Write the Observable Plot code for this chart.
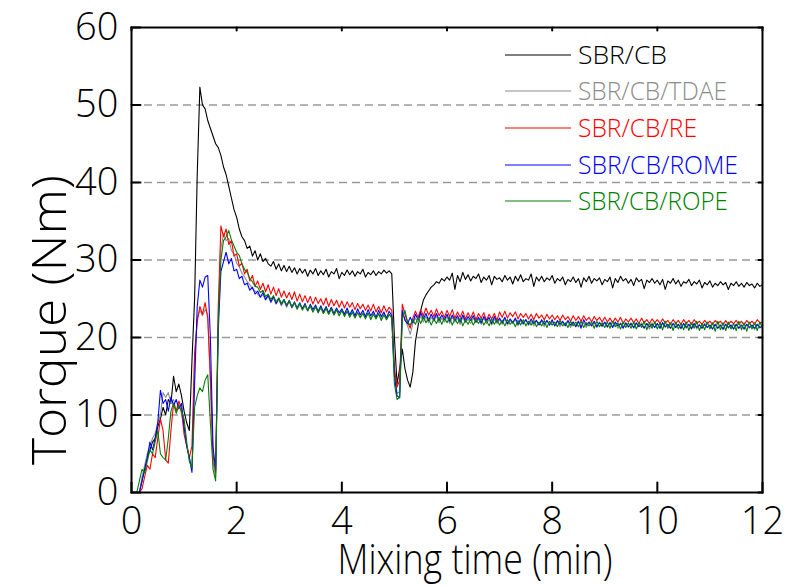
<!DOCTYPE html>
<html><head><meta charset="utf-8">
<script src="https://cdn.jsdelivr.net/npm/d3@7"></script>
<script src="https://cdn.jsdelivr.net/npm/@observablehq/plot@0.6"></script>
<style>body{margin:0;background:#fff;}</style>
</head><body><div id="chart"></div>
<script>
// Mixing time (min), sampled every 0.05 min
const time = [
0,0.05,0.1,0.15,0.2,0.25,0.3,0.35,0.4,0.45,0.5,0.55,0.6,0.65,0.7,0.75,0.8,0.85,0.9,0.95,
1,1.05,1.1,1.15,1.2,1.25,1.3,1.35,1.4,1.45,1.5,1.55,1.6,1.65,1.7,1.75,1.8,1.85,1.9,1.95,
2,2.05,2.1,2.15,2.2,2.25,2.3,2.35,2.4,2.45,2.5,2.55,2.6,2.65,2.7,2.75,2.8,2.85,2.9,2.95,
3,3.05,3.1,3.15,3.2,3.25,3.3,3.35,3.4,3.45,3.5,3.55,3.6,3.65,3.7,3.75,3.8,3.85,3.9,3.95,
4,4.05,4.1,4.15,4.2,4.25,4.3,4.35,4.4,4.45,4.5,4.55,4.6,4.65,4.7,4.75,4.8,4.85,4.9,4.95,
5,5.05,5.1,5.15,5.2,5.25,5.3,5.35,5.4,5.45,5.5,5.55,5.6,5.65,5.7,5.75,5.8,5.85,5.9,5.95,
6,6.05,6.1,6.15,6.2,6.25,6.3,6.35,6.4,6.45,6.5,6.55,6.6,6.65,6.7,6.75,6.8,6.85,6.9,6.95,
7,7.05,7.1,7.15,7.2,7.25,7.3,7.35,7.4,7.45,7.5,7.55,7.6,7.65,7.7,7.75,7.8,7.85,7.9,7.95,
8,8.05,8.1,8.15,8.2,8.25,8.3,8.35,8.4,8.45,8.5,8.55,8.6,8.65,8.7,8.75,8.8,8.85,8.9,8.95,
9,9.05,9.1,9.15,9.2,9.25,9.3,9.35,9.4,9.45,9.5,9.55,9.6,9.65,9.7,9.75,9.8,9.85,9.9,9.95,
10,10.05,10.1,10.15,10.2,10.25,10.3,10.35,10.4,10.45,10.5,10.55,10.6,10.65,10.7,10.75,10.8,10.85,10.9,10.95,
11,11.05,11.1,11.15,11.2,11.25,11.3,11.35,11.4,11.45,11.5,11.55,11.6,11.65,11.7,11.75,11.8,11.85,11.9,11.95,
12];

// Torque (Nm)
const sbrCB = [
null,null,null,0,1.5,3,4.5,5.5,6.5,7,
8.5,9.5,11,10,12,11.5,15,13,14,12.5,
10.5,9,8,17,25,41,52.3,50,49.5,48,
47,46,45,44.5,43.5,42,41,39.5,38,36.5,
35.5,34,33,32.5,31.5,31.8,30.5,31.2,30,30.8,
29.8,30.2,29.5,29.2,29.8,28.8,29.5,28.6,29.3,28.5,
29.2,28.4,29,28.2,28.9,28.3,28.8,27.9,28.7,28.2,
28.9,28,28.6,28.1,28.8,27.8,28.5,28.2,28.9,27.6,
28.4,28,28.7,28.1,28.6,27.9,28.5,28.2,28.8,27.8,
28.4,28.1,28.6,28,28.5,28.2,28.7,28.3,28.6,28.2,
20,14,16,18.5,16,14.5,13.6,15.5,19.5,21.5,
23.5,24.8,25.5,26,26.5,26.8,27.2,27,27.6,27.3,
27.8,27.4,28.3,26.2,28,27.2,28.4,27.5,28.1,27.3,
27.9,27.6,28.2,27.1,27.8,27.4,28,26.8,27.9,27.5,
27.7,27.2,28,27.4,27.8,26.9,27.9,27.3,28.1,27.2,
27.6,27.4,28.2,26.6,27.8,27.3,27.9,27.2,27.7,27.4,
28,27,27.6,27.3,27.8,26.8,27.5,27.2,27.8,27.1,
27.6,26.5,27.7,27.2,27.9,27,27.6,27.3,27.7,26.8,
27.5,27.2,27.8,26.4,27.6,27.1,27.9,27.3,27.6,27,
27.5,26.7,27.7,27.2,27.5,26.3,27.4,27.1,27.6,27,
27.4,26.8,27.5,26.2,27.3,27,27.6,26.9,27.4,26.6,
27.2,27,27.5,26.7,27.2,26.9,27.4,26.4,27.1,26.8,
27.3,26.5,27,26.7,27.2,26.8,27.1,26.2,27,26.7,
27.2,26.6,27,26.5,27.1,26.7,26.9,26.4,27,26.6,
26.8];

const sbrCBTDAE = [
null,null,null,0,2,3.5,5,6,7,7.6,
9,10,12.9,12.3,12.9,11.5,12,10.5,11.4,10.2,
8.5,6,4.5,3,17,22.5,23.5,22.8,23.6,23,
14,4,2,23,31.5,33.4,32.5,32.8,31.2,30.8,
29.6,29.1,28.3,27.8,27.2,26.8,26.3,26,25.6,25.2,
25.5,24.8,25.3,24.5,25.1,24.3,24.9,24.1,24.7,23.9,
24.6,23.8,24.4,23.6,24.3,23.5,24.1,23.4,24,23.3,
23.9,23.2,23.8,23.1,23.7,23,23.6,22.9,23.5,22.8,
23.5,22.8,23.4,22.7,23.3,22.6,23.3,22.5,23.2,22.6,
23.1,22.4,23.2,22.5,23,22.4,23.1,22.3,22.9,22.6,
15.5,12.8,13,23,22.5,21.5,20.4,21.8,22.5,21.9,
22.8,22,22.7,21.9,22.6,22.1,22.8,21.9,22.5,22,
22.7,21.8,22.6,22,22.5,21.7,22.6,21.9,22.4,21.8,
22.5,21.9,22.4,21.7,22.5,21.8,22.3,21.6,22.4,21.8,
22.3,21.7,22.4,21.6,22.2,21.8,22.3,21.5,22.2,21.7,
22.3,21.6,22.1,21.5,22.2,21.7,22.1,21.4,22.2,21.6,
22,21.5,22.1,21.4,22,21.6,22.1,21.3,22,21.5,
22.1,21.4,21.9,21.3,22,21.5,21.9,21.3,22,21.4,
21.9,21.3,22,21.4,21.8,21.2,21.9,21.4,21.8,21.3,
21.9,21.2,21.8,21.4,21.9,21.3,21.8,21.1,21.9,21.3,
21.8,21.2,21.9,21.3,21.7,21.2,21.8,21.3,21.7,21.1,
21.8,21.2,21.7,21.3,21.8,21.1,21.7,21.2,21.8,21.3,
21.6,21.1,21.7,21.2,21.6,21,21.7,21.2,21.6,21.1,
21.7,21.2,21.6,21.1,21.7,21.2,21.6,21,21.7,21.2,
21.5];

const sbrCBRE = [
null,null,null,0,0.5,2,3.5,3,5,4.5,
7,9.5,8,4.2,3.8,8,11.5,10.5,11.8,10.8,
7.5,6,4.5,6,18,22,24,23,24.5,22.5,
15,5,2.5,24,34.4,33,34,32,32.5,30.5,
30.8,29.2,29.6,28.2,28.8,27.3,28,26.6,27.3,26.2,
27,25.9,26.8,25.6,26.5,25.4,26.3,25.2,26,25.1,
25.8,24.9,25.9,24.7,25.6,24.6,25.4,24.5,25.3,24.3,
25.2,24.4,25,24.2,25.1,24,24.9,24.1,24.8,23.9,
24.7,23.8,24.6,23.9,24.5,23.6,24.4,23.7,24.3,23.5,
24.2,23.4,24.3,23.3,24,23.2,24.1,23.3,23.9,23.5,
16,13.6,14.5,24.3,23,22,21.2,22.5,23.4,22.6,
23.6,22.8,23.8,22.9,23.5,22.7,23.7,22.8,23.4,22.6,
23.5,22.7,23.6,22.5,23.3,22.6,23.4,22.4,23.2,22.5,
23.3,22.3,23.1,22.5,23.2,22.2,23,22.4,23.1,22.2,
23.3,22.6,23.4,22.5,23.2,22.7,23.3,22.4,23.1,22.6,
23.1,22.4,23,22.3,23.1,22.5,22.9,22.3,23,22.4,
22.9,22.3,22.8,22.2,22.9,22.3,22.7,22.1,22.8,22.2,
22.7,22.1,22.8,22.2,22.6,22,22.7,22.2,22.6,22,
22.6,22,22.5,21.9,22.5,22,22.6,21.8,22.4,22,
22.5,21.9,22.4,21.8,22.5,21.9,22.3,21.8,22.4,21.9,
22.3,21.8,22.4,21.9,22.2,21.7,22.3,21.8,22.2,21.7,
22.3,21.8,22.2,21.7,22.3,21.8,22.1,21.7,22.2,21.8,
22.1,21.7,22.2,21.8,22.1,21.6,22.2,21.7,22.1,21.8,
22.2,21.7,22.1,21.6,22.2,21.8,22.1,21.7,22.3,21.9,
22];

const sbrCBROME = [
null,null,null,0,1.5,3,4.5,6.5,5.5,7,
9,13.2,11.5,12,10.5,12.3,11.2,12,10.8,11.5,
8.5,6,4.5,2.6,14,24,27.4,26.5,27.8,28,
20,6,2.8,21,28.5,29.8,31,29.5,30.2,28.6,
28.8,27.6,27.9,26.8,27,26.1,26.5,25.6,26,25.2,
25.8,24.9,25.5,24.6,25.3,24.4,25.1,24.3,24.9,24.1,
24.8,23.9,24.6,23.8,24.5,23.7,24.4,23.5,24.3,23.6,
24.2,23.4,24.1,23.3,24,23.2,23.9,23.1,23.8,23.2,
23.7,23,23.8,22.9,23.6,22.8,23.7,22.9,23.5,22.7,
23.6,22.8,23.4,22.6,23.5,22.7,23.3,22.5,23.4,22.8,
15,12.5,12.2,23.5,22.2,21.8,22.6,21.9,23,22.3,
23.2,22.4,23.1,22.2,23,22.3,23.1,22.2,22.9,22.3,
23,22.1,22.9,22.2,22.8,22,22.9,22.1,22.7,22.2,
22.8,22,22.6,21.9,22.7,22.1,22.6,21.8,22.7,22,
22.5,21.9,22.6,21.8,22.4,21.9,22.5,21.7,22.4,21.8,
22.3,21.7,22.4,21.8,22.2,21.6,22.3,21.7,22.2,21.6,
22.3,21.5,22.2,21.7,22.1,21.5,22.2,21.6,22,21.4,
22.1,21.2,22.3,21.6,22,21.5,22.1,21.4,21.9,21.5,
22,21.4,21.9,21.3,22,21.5,21.8,21.2,21.9,21.4,
21.8,21.3,21.9,21.4,21.7,21.2,21.8,21.4,21.7,21.3,
21.8,21.2,21.9,21.4,21.7,21.2,21.8,21.3,21.7,21.2,
21.8,21.3,21.7,21.1,21.8,21.3,21.6,21.2,21.7,21.3,
21.6,21.1,21.7,21.2,21.6,21.1,21.7,21.3,21.6,21.1,
21.7,21.2,21.6,21.1,21.7,21.3,21.6,21.2,21.7,21.3,
21.5];

const sbrCBROPE = [
null,null,0,1.5,3,2.5,4,5.5,5,6.5,
8,5,4.5,4.2,7,10.5,11.5,10.2,11.2,10.5,
9.5,6.5,4,3.2,11,12.5,13.5,13,14.5,15.2,
9,3,1.5,22,30,32.5,33,33.8,32.6,31.8,
31,30.6,29.5,28.8,28.4,27.6,27.2,26.6,26.5,25.8,
26.1,25.3,25.6,24.9,25.4,24.6,25.1,24.4,24.9,24.2,
24.7,24,24.5,23.7,24.4,23.6,24.2,23.5,24.1,23.3,
24,23.2,23.9,23.1,23.8,23,23.7,22.9,23.6,22.8,
23.5,22.7,23.4,22.6,23.3,22.5,23.2,22.6,23.1,22.4,
23.2,22.3,23,22.4,23.1,22.2,22.9,22.3,23,22.5,
14,12,12.3,22.5,23.5,22,21.6,22.3,21.7,22.6,
21.8,22.7,21.9,22.5,21.6,22.4,21.8,22.6,21.7,22.5,
21.9,22.6,21.6,22.4,21.8,22.5,21.5,22.3,21.7,22.4,
21.6,22.3,21.8,22.5,21.6,22.2,21.5,22.4,21.7,22.3,
21.6,22.2,21.5,22.3,21.7,22.1,21.4,22.2,21.6,22.3,
21.5,22.1,21.6,22.2,21.4,22,21.5,22.2,21.3,22.1,
21.6,22,21.4,22.2,21.5,21.9,21.3,22.1,21.5,22,
21.4,22.1,21.3,21.9,21.5,22,21.2,22.1,21.4,21.9,
21.3,22,21.2,22.1,21.4,21.9,21.1,22,21.3,21.9,
21.2,22,21.1,21.9,21.3,22.1,21,21.9,21.2,22,
21.1,21.9,21,22.1,21.2,21.9,20.9,22,21.1,21.8,
21,22,20.9,21.9,21.2,22.1,20.9,21.8,21,22,
21.1,21.9,20.8,22.1,21,21.9,20.9,22,21.1,21.8,
20.9,22.1,21,21.9,20.8,22,21.1,21.9,20.9,22,
21.2];

const seriesNames = ["SBR/CB","SBR/CB/TDAE","SBR/CB/RE","SBR/CB/ROME","SBR/CB/ROPE"];
const seriesColors = ["#000000","#8c8c8c","#ff0000","#0000ff","#008000"];
const seriesValues = [sbrCB, sbrCBTDAE, sbrCBRE, sbrCBROME, sbrCBROPE];
const xTicks = [0,2,4,6,8,10,12];
const yTicks = [0,10,20,30,40,50,60];
const gridValues = [10,20,30,40,50];
const xLabel = "Mixing time (min)";
const yLabel = "Torque (Nm)";

// layout (pixels)
const FONT = "'Open Sans', Roboto, sans-serif";
const WEIGHT = 300;
const legendRowY = [55, 91, 128, 165, 201];
const legendTextWidth = [89, 149, 119, 160, 150];

const tickShape = {draw(ctx, l) { ctx.moveTo(0, 0); ctx.lineTo(0, -l); }};
const index = time.map((_, i) => i);

const lineMarks = seriesValues.map((vals, k) =>
  Plot.line(index, {x: i => time[i], y: i => vals[i], stroke: seriesColors[k], strokeWidth: 1.1})
);

const chart = Plot.plot({
  width: 805, height: 586,
  marginLeft: 131, marginRight: 43, marginTop: 27, marginBottom: 94,
  x: {domain: [0, 12], axis: null},
  y: {domain: [0, 60], axis: null},
  style: {fontFamily: FONT, background: "white", color: "black"},
  marks: [
    Plot.ruleY(gridValues, {stroke: "#9a9a9a", strokeWidth: 1.3, strokeDasharray: "8,5"}),
    ...lineMarks,
    Plot.frame({stroke: "black", strokeWidth: 2}),
    Plot.vector(xTicks, {x: d => d, frameAnchor: "bottom", length: 10, anchor: "start", rotate: 0, shape: tickShape, stroke: "black", strokeWidth: 2}),
    Plot.vector(xTicks, {x: d => d, frameAnchor: "top", length: 3, anchor: "start", rotate: 180, shape: tickShape, stroke: "black", strokeWidth: 2}),
    Plot.vector(yTicks, {y: d => d, frameAnchor: "left", length: 9, anchor: "start", rotate: 90, shape: tickShape, stroke: "black", strokeWidth: 2}),
    Plot.vector(yTicks, {y: d => d, frameAnchor: "right", length: 4, anchor: "start", rotate: -90, shape: tickShape, stroke: "black", strokeWidth: 2}),
    Plot.text(xTicks, {x: d => d, text: d => String(d), frameAnchor: "bottom", lineAnchor: "top", dy: 15, fontSize: 38, fontWeight: WEIGHT, fill: "black"}),
    Plot.text(yTicks, {y: d => d, text: d => String(d), frameAnchor: "left", textAnchor: "end", lineAnchor: "middle", dx: -13, fontSize: 38, fontWeight: WEIGHT, fill: "black"})
  ]
});

const svg = d3.select(chart);

// axis titles
svg.append("text").attr("x", 475).attr("y", 574)
  .attr("text-anchor", "middle").attr("font-family", FONT).attr("font-weight", WEIGHT)
  .attr("font-size", 42).attr("fill", "black")
  .attr("textLength", 275).attr("lengthAdjust", "spacingAndGlyphs")
  .text(xLabel);
svg.append("text").attr("transform", "translate(66,320) rotate(-90)")
  .attr("text-anchor", "middle").attr("font-family", FONT).attr("font-weight", WEIGHT)
  .attr("font-size", 48).attr("fill", "black")
  .attr("textLength", 290).attr("lengthAdjust", "spacingAndGlyphs")
  .text(yLabel);

// legend
const lg = svg.append("g").attr("font-family", FONT).attr("font-weight", WEIGHT).attr("font-size", 25);
seriesNames.forEach((name, k) => {
  lg.append("line").attr("x1", 505).attr("x2", 571).attr("y1", legendRowY[k]).attr("y2", legendRowY[k])
    .attr("stroke", seriesColors[k]).attr("stroke-width", 1.2);
  lg.append("text").attr("x", 578).attr("y", legendRowY[k]).attr("dy", "0.36em")
    .attr("text-anchor", "start").attr("fill", seriesColors[k])
    .attr("textLength", legendTextWidth[k]).attr("lengthAdjust", "spacingAndGlyphs")
    .text(name);
});

document.getElementById("chart").appendChild(chart);
</script>
</body></html>
